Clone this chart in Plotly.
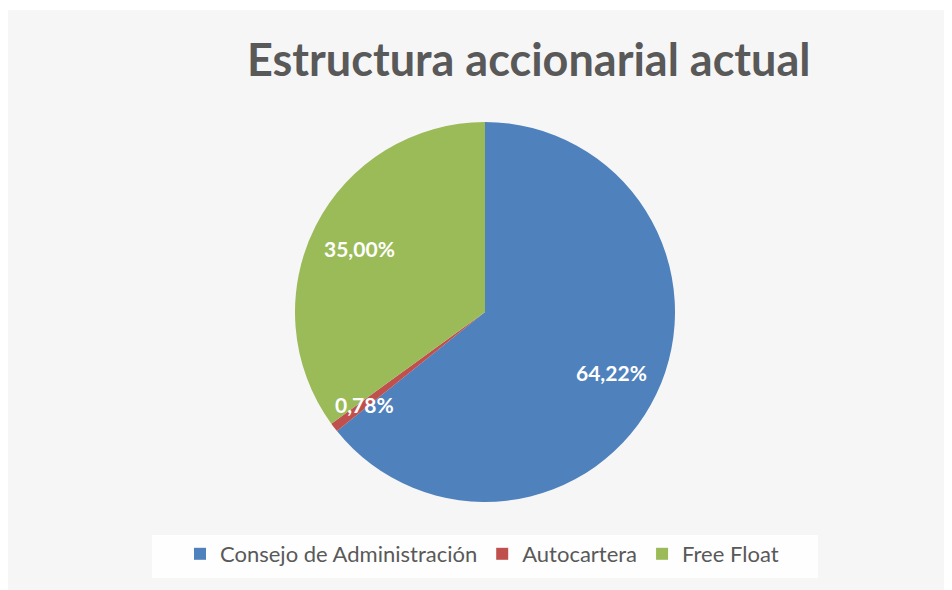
import math
import plotly.graph_objects as go

categories = ["Consejo de Administración", "Autocartera", "Free Float"]
values = [64.22, 0.78, 35.00]
label_texts = ["64,22%", "0,78%", "35,00%"]
colors = ["#4F81BD", "#C0504D", "#9BBB59"]

# The page body has an 8px margin, so figure coords = screen coords - 8
W, H = 952, 590
cx, cy, r = 477, 304, 190

fig = go.Figure(go.Pie(
    labels=categories,
    values=values,
    textinfo="none",
    sort=False,
    direction="clockwise",
    rotation=0,
    marker=dict(colors=colors, line=dict(color="rgba(0,0,0,0)", width=0)),
    hoverinfo="label+percent",
    domain=dict(x=[(cx - r) / W, (cx + r) / W], y=[1 - (cy + r) / H, 1 - (cy - r) / H]),
    showlegend=True,
))

# Data labels placed like Excel's "best fit": along each slice's mid-angle
annotations = []
total = sum(values)
cum = 0.0
for v, t in zip(values, label_texts):
    frac_mid = (cum + v / 2) / total
    cum += v
    ang = 2 * math.pi * frac_mid
    rf = 0.74 if v / total >= 0.05 else 0.80
    px = cx + math.sin(ang) * r * rf
    py = cy - math.cos(ang) * r * rf
    annotations.append(dict(text="<b>%s</b>" % t, xref="paper", yref="paper",
                            x=px / W, y=1 - py / H, xanchor="center", yanchor="middle",
                            showarrow=False,
                            font=dict(family="Lato", size=21, color="white")))

annotations.append(dict(text="<b>Estructura accionarial actual</b>", xref="paper", yref="paper",
                        x=520 / W, y=1 - 51 / H, xanchor="center", yanchor="middle", showarrow=False,
                        font=dict(family="Lato", size=45, color="#595959")))

fig.update_layout(
    width=W, height=H,
    margin=dict(l=0, r=0, t=0, b=0),
    paper_bgcolor="white",
    shapes=[
        dict(type="rect", xref="paper", yref="paper", x0=0, x1=1, y0=0, y1=1 - 2 / H,
             fillcolor="#f6f6f6", line=dict(width=0), layer="below"),
        dict(type="rect", xref="paper", yref="paper", x0=144 / W, x1=810 / W,
             y0=1 - 570 / H, y1=1 - 527 / H,
             fillcolor="rgba(255,255,255,0.9)", line=dict(width=0), layer="below"),
    ],
    annotations=annotations,
    legend=dict(orientation="h", x=474 / W, xanchor="center", y=1 - 546 / H, yanchor="middle",
                bgcolor="rgba(0,0,0,0)", font=dict(family="Lato", size=22, color="#595959"),
                itemwidth=30, traceorder="normal"),
)

fig.write_html("out.html")
